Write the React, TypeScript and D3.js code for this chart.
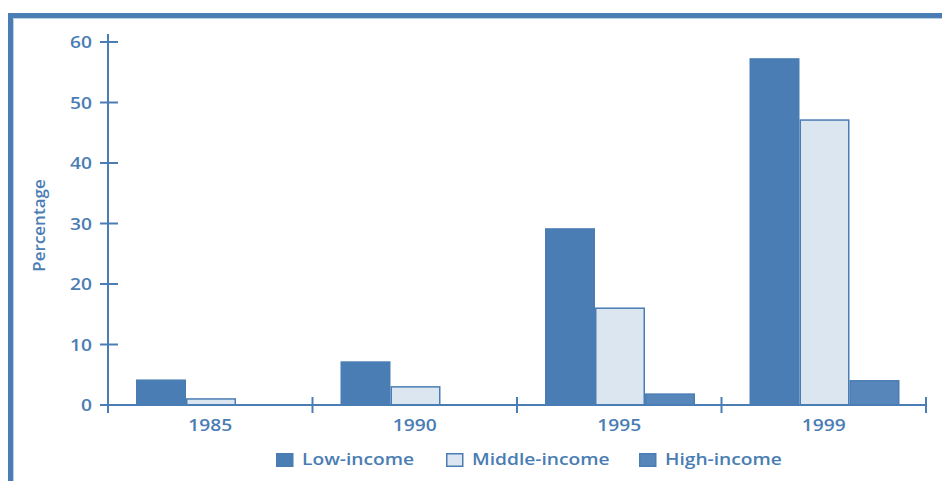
import * as d3 from "d3";

const years = ["1985", "1990", "1995", "1999"];
const series = ["Low-income", "Middle-income", "High-income"];
const lowIncome = [4.1, 7.1, 29.1, 57.2];
const middleIncome = [1, 3, 16, 47.1];
const highIncome = [0, 0, 1.8, 4];
const yTicks = [0, 10, 20, 30, 40, 50, 60];

const BLUE = "#4a7db3";
const font = "'Open Sans', sans-serif";
// the reference's lettering is stretched sideways
const SX = 1.2;

function Label({ x, y, anchor, size, children }: { x: number; y: number; anchor: string; size: number; children: any }) {
  return (
    <g transform={`translate(${x},${y}) scale(${SX},1)`}>
      <text textAnchor={anchor} fill={BLUE} fontFamily={font} fontSize={size} fontWeight={600}>
        {children}
      </text>
    </g>
  );
}

export default function App() {
  const width = 942;
  const height = 481;
  const left = 108;
  const right = 926;
  const top = 42;
  const bottom = 405;

  const x = d3.scaleBand<string>().domain(years).range([left, right]);
  const inner = d3.scaleBand<string>().domain(series).range([28, 28 + 150]);
  const y = d3.scaleLinear().domain([0, 60]).range([bottom, top]);

  const values = [lowIncome, middleIncome, highIncome];
  const fills = [BLUE, "#dce6f0", "#5787ba"];

  const bars = series
    .flatMap((s, si) => years.map((yr, yi) => ({ s, si, yr, v: values[si][yi] })))
    .filter((d) => d.v > 0);

  const legendX = [276, 446, 639];

  return (
    <svg
      width={width}
      height={height}
      viewBox={`0 0 ${width} ${height}`}
      style={{ position: "absolute", left: 0, top: 0, background: "#fff" }}
    >
      {/* frame */}
      <line x1={8} x2={width} y1={15.5} y2={15.5} stroke={BLUE} strokeWidth={5} />
      <line x1={10.5} x2={10.5} y1={13} y2={height} stroke={BLUE} strokeWidth={5} />
      <line x1={13.5} x2={width} y1={18.5} y2={18.5} stroke="#bcd0e6" strokeWidth={1} />
      <line x1={13.5} x2={13.5} y1={18} y2={height} stroke="#bcd0e6" strokeWidth={1} />

      {bars.map((d) => {
        const bx = (x(d.yr) ?? 0) + (inner(d.s) ?? 0);
        const bw = inner.bandwidth();
        return (
          <rect
            key={`${d.s}-${d.yr}`}
            x={bx + 0.75}
            y={y(d.v)}
            width={bw - 1.5}
            height={bottom - y(d.v)}
            fill={fills[d.si]}
            stroke={BLUE}
            strokeWidth={1.5}
          />
        );
      })}

      {/* y axis */}
      <line x1={left} x2={left} y1={top - 8} y2={bottom} stroke={BLUE} strokeWidth={2} />
      {yTicks.map((t) => (
        <g key={t}>
          <line x1={left - 8} x2={left + 10} y1={y(t)} y2={y(t)} stroke={BLUE} strokeWidth={2} />
          <Label x={left - 16} y={y(t) + 6} anchor="end" size={16}>
            {t}
          </Label>
        </g>
      ))}
      <text
        transform={`translate(45,${(top + bottom) / 2 + 2}) rotate(-90)`}
        textAnchor="middle"
        fill={BLUE}
        fontFamily={font}
        fontSize={17}
        fontWeight={600}
      >
        Percentage
      </text>

      {/* x axis */}
      <line x1={left} x2={right} y1={bottom} y2={bottom} stroke={BLUE} strokeWidth={2} />
      {years.map((yr) => (
        <g key={yr}>
          <line
            x1={(x(yr) ?? 0) + x.bandwidth()}
            x2={(x(yr) ?? 0) + x.bandwidth()}
            y1={bottom - 8}
            y2={bottom + 8}
            stroke={BLUE}
            strokeWidth={2}
          />
          <Label x={(x(yr) ?? 0) + x.bandwidth() / 2} y={431} anchor="middle" size={16}>
            {yr}
          </Label>
        </g>
      ))}
      <line x1={left} x2={left} y1={bottom} y2={bottom + 8} stroke={BLUE} strokeWidth={2} />

      {/* legend */}
      {series.map((s, i) => (
        <g key={s}>
          <rect
            x={legendX[i] + 0.75}
            y={453.75}
            width={16}
            height={12.5}
            fill={fills[i]}
            stroke={BLUE}
            strokeWidth={1.5}
          />
          <Label x={legendX[i] + 26} y={465} anchor="start" size={16}>
            {s}
          </Label>
        </g>
      ))}
    </svg>
  );
}
